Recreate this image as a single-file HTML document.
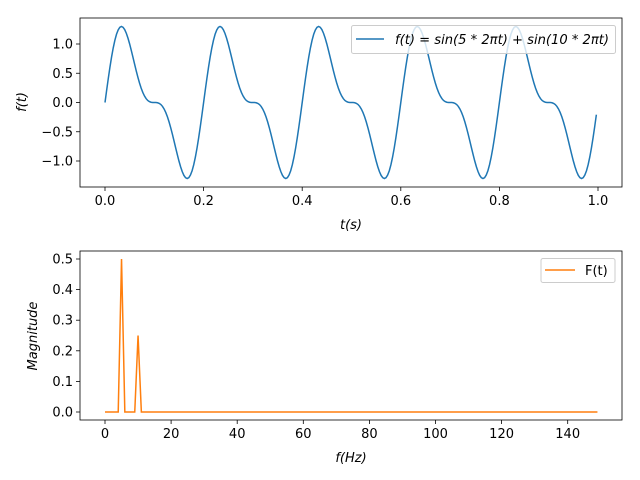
<!DOCTYPE html>
<html><head><meta charset="utf-8"><style>
body{margin:0;background:#fff}
svg{display:block;font-family:"DejaVu Sans","Liberation Sans",sans-serif}
</style></head><body>
<svg id="s" width="640" height="480" xmlns="http://www.w3.org/2000/svg">
<rect width="640" height="480" fill="#fff"/>
<g font-size="13" fill="#000">
<g stroke="#000" stroke-width="0.8">
<line x1="105" y1="187" x2="105" y2="191"/><line x1="203.6" y1="187" x2="203.6" y2="191"/><line x1="302.2" y1="187" x2="302.2" y2="191"/><line x1="400.8" y1="187" x2="400.8" y2="191"/><line x1="499.4" y1="187" x2="499.4" y2="191"/><line x1="598" y1="187" x2="598" y2="191"/>
<line x1="76" y1="44" x2="80" y2="44"/><line x1="76" y1="73.25" x2="80" y2="73.25"/><line x1="76" y1="102.5" x2="80" y2="102.5"/><line x1="76" y1="131.75" x2="80" y2="131.75"/><line x1="76" y1="161" x2="80" y2="161"/>
</g>
<g text-anchor="middle">
<text x="105" y="205">0.0</text><text x="203.6" y="205">0.2</text><text x="302.2" y="205">0.4</text><text x="400.8" y="205">0.6</text><text x="499.4" y="205">0.8</text><text x="598" y="205">1.0</text>
</g>
<g text-anchor="end">
<text x="73" y="48.5">1.0</text><text x="73" y="77.8">0.5</text><text x="73" y="107">0.0</text><text x="73" y="136.3">−0.5</text><text x="73" y="165.5">−1.0</text>
</g>
<text x="351" y="229" text-anchor="middle" font-style="italic">t(s)</text>
<text transform="translate(26,102) rotate(-90)" text-anchor="middle" font-style="italic">f(t)</text>
<g stroke="#000" stroke-width="0.8" id="bt"></g>
<g text-anchor="middle" id="btl"></g>
<g text-anchor="end">
<text x="73" y="416.5">0.0</text><text x="73" y="385.9">0.1</text><text x="73" y="355.3">0.2</text><text x="73" y="324.7">0.3</text><text x="73" y="294.1">0.4</text><text x="73" y="263.5">0.5</text>
</g>
<g stroke="#000" stroke-width="0.8">
<line x1="76" y1="412" x2="80" y2="412"/><line x1="76" y1="381.4" x2="80" y2="381.4"/><line x1="76" y1="350.8" x2="80" y2="350.8"/><line x1="76" y1="320.2" x2="80" y2="320.2"/><line x1="76" y1="289.6" x2="80" y2="289.6"/><line x1="76" y1="259" x2="80" y2="259"/>
</g>
<text x="351" y="462" text-anchor="middle" font-style="italic">f(Hz)</text>
<text transform="translate(37,336) rotate(-90)" text-anchor="middle" font-style="italic">Magnitude</text>
</g>
<polyline id="p1" fill="none" stroke="#1f77b4" stroke-width="1.5"/>
<polyline id="p2" fill="none" stroke="#ff7f0e" stroke-width="1.5"/>
<rect x="80" y="18" width="542" height="169" fill="none" stroke="#000" stroke-width="0.8"/>
<rect x="80" y="251" width="542" height="169" fill="none" stroke="#000" stroke-width="0.8"/>
<rect x="351.5" y="25.5" width="264" height="28" rx="2" fill="#fff" fill-opacity="0.8" stroke="#ccc"/>
<line x1="356" y1="39" x2="384" y2="39" stroke="#1f77b4" stroke-width="1.5"/>
<text x="395" y="44" font-size="13" font-style="italic" textLength="214" lengthAdjust="spacingAndGlyphs">f(t) = sin(5 * 2πt) + sin(10 * 2πt)</text>
<rect x="541" y="258.5" width="74" height="24" rx="2" fill="#fff" fill-opacity="0.8" stroke="#ccc"/>
<line x1="545" y1="270" x2="575" y2="270" stroke="#ff7f0e" stroke-width="1.5"/>
<text x="585" y="275" font-size="13">F(t)</text>
</svg>
<script>
var a=[];for(var i=0;i<300;i++){var t=i/300;var v=Math.sin(5*2*Math.PI*t)+0.5*Math.sin(10*2*Math.PI*t);a.push((105+493*t).toFixed(2)+","+(102.5-58.5*v).toFixed(2));}
document.getElementById("p1").setAttribute("points",a.join(" "));
var S=3.305;
var b=[];for(var k=0;k<150;k++){var m=k==5?0.5:(k==10?0.25:0);b.push((105+S*k).toFixed(2)+","+(412-306*m).toFixed(2));}
document.getElementById("p2").setAttribute("points",b.join(" "));
var bt=document.getElementById("bt"),btl=document.getElementById("btl"),ns="http://www.w3.org/2000/svg";
for(var f=0;f<=140;f+=20){var x=105+S*f;var l=document.createElementNS(ns,"line");l.setAttribute("x1",x);l.setAttribute("x2",x);l.setAttribute("y1",420);l.setAttribute("y2",424);bt.appendChild(l);
var tx=document.createElementNS(ns,"text");tx.setAttribute("x",x);tx.setAttribute("y",438);tx.textContent=f;btl.appendChild(tx);}
</script>
</body></html>
